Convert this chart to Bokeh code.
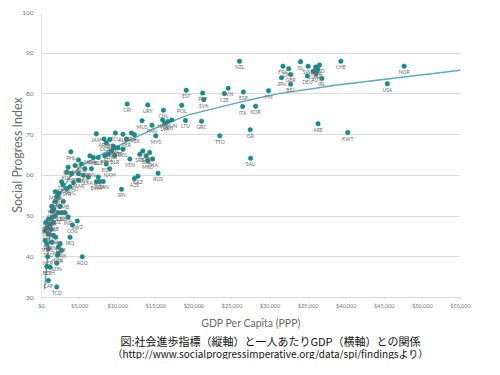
from bokeh.plotting import figure
from bokeh.layouts import column
from bokeh.models import ColumnDataSource, NumeralTickFormatter, FixedTicker, Label, Range1d
from bokeh.core.properties import value
from bokeh.embed import file_html
from bokeh.resources import INLINE

# ---- data ----
country = ["NZL", "EST", "PRT", "SVK", "CZE", "SVN", "ESP", "ITA", "KOR", "ISR",
           "FIN", "FRA", "DNK", "GBR", "JPN", "BEL", "ISL", "SWE", "CAN", "NLD",
           "AUS", "LUX", "AUT", "DEU", "IRL", "CHE", "NOR", "USA", "KWT", "ARE",
           "SAU", "TTO", "GRC", "LTU", "POL", "HUN", "CHL", "URY", "CRI", "MUS",
           "PAN", "MYS", "HRV", "LVA", "ARG", "RUS", "KAZ", "AZE", "SRB", "TUR",
           "BIH", "LBN", "THA", "MKD", "VEN", "COL", "BRA", "MNE", "MEX", "ALB",
           "PER", "ECU", "JAM", "ARM", "DOM", "GEO", "TUN", "JOR", "UKR", "SLV",
           "PRY", "BLR", "MDA", "MNG", "BLZ", "PHL", "NIC", "BOL", "HND", "GTM",
           "IDN", "EGY", "NAM", "UZB", "KGZ", "TJK", "VNM", "GUY", "LKA", "ZAF",
           "BWA", "DZA", "CHN", "IRN", "MAR", "LAO", "KHM", "NPL", "BGD", "KEN",
           "GHA", "SEN", "LSO", "IND", "SWZ", "COG", "IRQ", "AGO", "NER", "NGA",
           "SDN", "BDI", "ETH", "CAF", "TCD", "YEM", "MRT", "PAK", "GIN", "CMR",
           "TGO", "MDG", "BEN", "LBR", "CIV", "MLI", "TZA", "MWI", "RWA", "ZMB",
           "UGA", "BFA", "MOZ", "SLE", "DJI", "ZWE", "HTI", "GMB", "MMR", "SYR",
           "PNG", "TLS", "COD", "ERI"]
gdp = [26000, 19000, 21150, 21300, 24000, 24500, 26500, 26400, 28100, 27400,
       29800, 31700, 32450, 32700, 31500, 32700, 34000, 35000, 36000, 36500,
       36300, 35700, 36050, 34900, 36800, 39300, 47600, 45400, 40200, 36300,
       27450, 23400, 21000, 18900, 18400, 17100, 16000, 13950, 11250, 13200,
       14500, 15000, 15900, 16200, 16600, 15300, 12650, 12200, 12900, 13300,
       13750, 14200, 14600, 13950, 11600, 10700, 11800, 9600, 12200, 10700,
       11150, 9700, 7200, 8200, 8500, 8950, 9400, 10050, 9200, 8750,
       8300, 9600, 6350, 6800, 7450, 3850, 4850, 5250, 4400, 5700,
       6550, 8500, 8950, 3500, 3300, 3950, 4850, 5500, 6150, 7450,
       7200, 7650, 8100, 10500, 4850, 4200, 2800, 2300, 2000, 1800,
       3100, 1350, 2650, 3500, 4700, 4050, 3750, 5350, 820, 2100,
       2000, 700, 1130, 900, 2000, 2450, 2200, 2650, 2200, 1870,
       900, 700, 1350, 480, 1570, 900, 1260, 700, 1130, 1570,
       900, 1350, 1800, 2200, 1570, 2450, 1350, 2870, 1800, 3300,
       3750, 2650, 480, 560]
spi = [88.0, 80.9, 80.2, 78.6, 80.1, 81.4, 80.5, 76.9, 77.0, 71.2,
       80.8, 86.8, 86.2, 84.8, 84.0, 82.4, 87.9, 86.8, 86.6, 87.1,
       86.0, 85.6, 85.0, 84.4, 83.8, 88.0, 86.8, 82.5, 70.5, 72.7,
       64.2, 69.7, 73.3, 73.5, 77.2, 73.6, 76.0, 77.3, 77.5, 73.4,
       72.3, 69.7, 73.6, 72.8, 73.2, 60.5, 59.8, 59.2, 65.2, 66.0,
       64.8, 65.6, 64.0, 63.6, 64.0, 66.4, 70.4, 66.8, 70.0, 70.1,
       68.9, 70.4, 70.2, 68.9, 68.0, 68.8, 67.2, 66.8, 66.0, 65.2,
       64.8, 64.8, 64.8, 64.4, 64.4, 65.8, 63.8, 62.8, 62.4, 61.6,
       61.6, 62.8, 61.6, 62.0, 60.8, 60.4, 60.4, 60.0, 59.6, 59.6,
       58.4, 58.5, 58.5, 56.6, 58.8, 58.2, 57.7, 55.6, 54.8, 53.6,
       50.8, 51.2, 50.8, 49.8, 48.8, 47.8, 44.8, 40.0, 40.0, 40.4,
       38.4, 37.6, 37.4, 34.2, 32.6, 43.2, 42.4, 41.6, 40.8, 44.8,
       42.0, 43.2, 43.6, 44.0, 45.2, 45.6, 46.8, 47.2, 48.0, 48.4,
       49.2, 49.6, 50.0, 50.8, 51.6, 52.4, 52.4, 53.6, 56.0, 56.8,
       57.2, 58.4, 46.4, 48.4]

# trend line
trend_gdp = [390, 910, 1350, 2220, 3520, 5260, 8310, 11350, 14400, 19180, 27000, 31000, 38800, 55000]
trend_spi = [32.0, 42.4, 48.8, 54.4, 59.2, 62.4, 65.6, 68.4, 71.2, 74.8, 78.4, 80.0, 82.2, 85.8]

x_ticks = [0, 5000, 10000, 15000, 20000, 25000, 30000, 35000, 40000, 45000, 50000, 55000]
y_ticks = [30, 40, 50, 60, 70, 80, 90, 100]

caption1 = "図:社会進歩指標（縦軸）と一人あたりGDP（横軸）との関係"
caption2 = "（http://www.socialprogressimperative.org/data/spi/findingsより）"

W = 484
H1, H2 = 331, 28
BL, BR = 41, 24
p = figure(width=W, height=H1, output_backend="svg", toolbar_location=None,
           x_range=Range1d(0, 55000), y_range=Range1d(30, 100),
           min_border_left=BL, min_border_right=BR, min_border_top=12, min_border_bottom=31)
p.outline_line_color = None

src = ColumnDataSource(dict(country=country, gdp=gdp, spi=spi))
p.line(trend_gdp, trend_spi, line_color="#5aa9c4", line_width=1.4)
p.scatter("gdp", "spi", source=src, size=4.5, fill_color="#138e8e", line_color="#0e7a7a", line_width=0.5)
p.text("gdp", "spi", text="country", source=src, y_offset=6, text_align="center",
       text_baseline="middle", text_font_size="5px", text_color="#6a6a6a", text_font=value("Lato"))

p.xgrid.grid_line_color = None
p.ygrid.grid_line_color = "#dcdcdc"
p.ygrid.grid_line_width = 1.2

xa = p.xaxis[0]
xa.ticker = FixedTicker(ticks=x_ticks)
xa.formatter = NumeralTickFormatter(format="$0,0")
xa.axis_line_color = "#d8d8d8"
xa.major_tick_line_color = "#d8d8d8"
xa.major_tick_out = 2
xa.major_tick_in = 0
xa.minor_tick_line_color = None
xa.major_label_standoff = 3
xa.major_label_text_font_size = "5.5px"
xa.major_label_text_color = "#777777"
xa.major_label_text_font = "Lato"
xa.axis_label = "GDP Per Capita (PPP)"
xa.axis_label_text_font_size = "10.5px"
xa.axis_label_text_font_style = "normal"
xa.axis_label_text_color = "#6a6a6a"
xa.axis_label_text_font = "Lato"
xa.axis_label_standoff = 5

ya = p.yaxis[0]
ya.ticker = FixedTicker(ticks=y_ticks)
ya.axis_line_color = "#e4e4e4"
ya.major_tick_line_color = None
ya.minor_tick_line_color = None
ya.major_label_standoff = 2
ya.major_label_text_font_size = "6.5px"
ya.major_label_text_color = "#777777"
ya.major_label_text_font = "Lato"
ya.axis_label = "Social Progress Index"
ya.axis_label_text_font_size = "12.5px"
ya.axis_label_text_font_style = "normal"
ya.axis_label_text_color = "#6a6a6a"
ya.axis_label_text_font = "Lato"
ya.axis_label_standoff = -6

# caption figure below the chart (its frame is aligned with the chart frame)
cap = figure(width=W, height=H2, output_backend="svg", toolbar_location=None,
             x_range=Range1d(0, 1), y_range=Range1d(0, 1),
             x_axis_location=None, y_axis_location=None,
             min_border_left=BL, min_border_right=BR, min_border_top=0, min_border_bottom=0)
cap.grid.visible = False
cap.outline_line_color = None
cap.add_layout(Label(x=229, y=H2 - 9, x_units="screen", y_units="screen", text=caption1,
                     text_align="center", text_baseline="middle", text_font_size="11px",
                     text_color="#111111", text_font="Noto Sans CJK JP"))
cap.add_layout(Label(x=229, y=H2 - 21.5, x_units="screen", y_units="screen", text=caption2,
                     text_align="center", text_baseline="middle", text_font_size="10px",
                     text_color="#111111", text_font="Noto Sans CJK JP"))

layout = column(p, cap, spacing=0)
open("out.html", "w").write(file_html(layout, INLINE))
